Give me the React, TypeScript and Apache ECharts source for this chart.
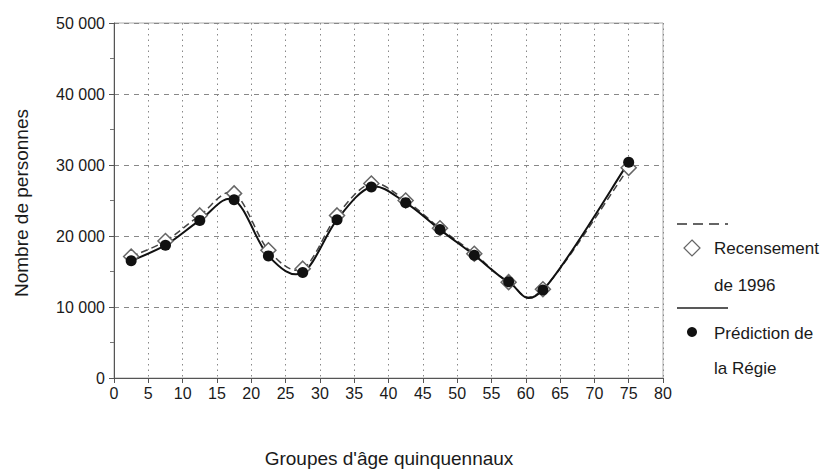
import React, { useEffect, useRef } from "react";
import * as echarts from "echarts";

const ageX = [2.5, 7.5, 12.5, 17.5, 22.5, 27.5, 32.5, 37.5, 42.5, 47.5, 52.5, 57.5, 62.5, 75];
const recensement = [17100, 19300, 22900, 26000, 18000, 15400, 22900, 27400, 25000, 21100, 17500, 13500, 12500, 29600];
const prediction = [16500, 18700, 22200, 25100, 17200, 14850, 22300, 26900, 24700, 20900, 17300, 13550, 12400, 30400];
const xTicks = { min: 0, max: 80, interval: 5 };
const yTicks = { min: 0, max: 50000, interval: 10000 };
const xTitle = "Groupes d'âge quinquennaux";
const yTitle = "Nombre de personnes";
const legend1 = ["Recensement", "de 1996"];
const legend2 = ["Prédiction de", "la Régie"];

const FONT = "'Liberation Sans', Arial, sans-serif";

function curveRenderer(ys: number[], stroke: string, lineWidth: number, lineDash: number[] | null) {
  return (params: any, api: any) => {
    const i = params.dataIndex;
    if (i === 0) return null;
    const n = ageX.length;
    const P = (k: number) => {
      const j = Math.max(0, Math.min(n - 1, k));
      return [ageX[j], ys[j]];
    };
    const p0 = P(i - 2), p1 = P(i - 1), p2 = P(i), p3 = P(i + 1);
    const c1 = [p1[0] + (p2[0] - p0[0]) / 6, p1[1] + (p2[1] - p0[1]) / 6];
    const c2 = [p2[0] - (p3[0] - p1[0]) / 6, p2[1] - (p3[1] - p1[1]) / 6];
    const a = api.coord(p1), b = api.coord(c1), c = api.coord(c2), d = api.coord(p2);
    return {
      type: "bezierCurve",
      shape: { x1: a[0], y1: a[1], cpx1: b[0], cpy1: b[1], cpx2: c[0], cpy2: c[1], x2: d[0], y2: d[1] },
      style: { stroke, lineWidth, fill: "none", lineDash: lineDash || undefined },
    };
  };
}

export default function App() {
  const ref = useRef<HTMLDivElement>(null);
  useEffect(() => {
    if (!ref.current) return;
    const chart = echarts.init(ref.current, undefined, { renderer: "svg" });
    const textStyle = { fontFamily: FONT, fill: "#1a1a1a" };
    chart.setOption({
      animation: false,
      backgroundColor: "#fff",
      textStyle: { fontFamily: FONT },
      grid: {
        left: 114, right: 162, top: 23, bottom: 93,
        show: true, borderColor: "#aaa", borderWidth: 1,
      },
      xAxis: {
        type: "value", ...xTicks,
        axisLine: { show: true, lineStyle: { color: "#555", width: 1 } },
        axisTick: { show: true, length: 5, lineStyle: { color: "#555" } },
        axisLabel: { fontFamily: FONT, fontSize: 16, color: "#1a1a1a", margin: 7 },
        splitLine: { show: true, lineStyle: { color: "#888", type: [1.5, 4], width: 1 } },
      },
      yAxis: {
        type: "value", ...yTicks,
        axisLine: { show: true, lineStyle: { color: "#555", width: 1 } },
        axisTick: { show: true, length: 5, lineStyle: { color: "#555" } },
        minorTick: { show: true, splitNumber: 2, length: 4, lineStyle: { color: "#777" } },
        axisLabel: {
          fontFamily: FONT, fontSize: 16, color: "#1a1a1a", margin: 9,
          formatter: (v: number) => (v === 0 ? "0" : `${v / 1000} 000`),
        },
        splitLine: { show: true, lineStyle: { color: "#888", type: [5, 5], width: 1 } },
      },
      series: [
        {
          name: "Recensement de 1996 (courbe)",
          type: "custom",
          data: ageX.map((x, i) => [x, recensement[i]]),
          encode: { x: 0, y: 1 },
          renderItem: curveRenderer(recensement, "#444", 1.5, [7, 4]),
          z: 2,
        },
        {
          name: "Prédiction de la Régie (courbe)",
          type: "custom",
          data: ageX.map((x, i) => [x, prediction[i]]),
          encode: { x: 0, y: 1 },
          renderItem: curveRenderer(prediction, "#111", 2, null),
          z: 3,
        },
        {
          name: "Recensement de 1996",
          type: "scatter",
          data: ageX.map((x, i) => [x, recensement[i]]),
          symbol: "diamond",
          symbolSize: 15,
          itemStyle: { color: "#fff", borderColor: "#666", borderWidth: 1.5, opacity: 1 },
          z: 4,
        },
        {
          name: "Prédiction de la Régie",
          type: "scatter",
          data: ageX.map((x, i) => [x, prediction[i]]),
          symbol: "circle",
          symbolSize: 11,
          itemStyle: { color: "#111", opacity: 1 },
          z: 5,
        },
      ],
      graphic: [
        { type: "text", x: 389, y: 458, style: { ...textStyle, text: xTitle, fontSize: 19, align: "center", verticalAlign: "middle" } },
        { type: "text", x: 21, y: 203, rotation: Math.PI / 2, style: { ...textStyle, text: yTitle, fontSize: 19, align: "center", verticalAlign: "middle" } },
        { type: "line", shape: { x1: 677, y1: 224, x2: 728, y2: 224 }, style: { stroke: "#333", lineWidth: 1.5, lineDash: [10, 6] } },
        { type: "polygon", shape: { points: [[692, 240], [700, 248], [692, 256], [684, 248]] }, style: { fill: "#fff", stroke: "#666", lineWidth: 1.2 } },
        { type: "text", x: 714, y: 248, style: { ...textStyle, text: legend1[0], fontSize: 17, verticalAlign: "middle" } },
        { type: "text", x: 714, y: 285, style: { ...textStyle, text: legend1[1], fontSize: 17, verticalAlign: "middle" } },
        { type: "line", shape: { x1: 677, y1: 308, x2: 728, y2: 308 }, style: { stroke: "#222", lineWidth: 1.5 } },
        { type: "circle", shape: { cx: 692, cy: 332, r: 5 }, style: { fill: "#111" } },
        { type: "text", x: 714, y: 333, style: { ...textStyle, text: legend2[0], fontSize: 17, verticalAlign: "middle" } },
        { type: "text", x: 714, y: 368, style: { ...textStyle, text: legend2[1], fontSize: 17, verticalAlign: "middle" } },
      ],
    });
    return () => chart.dispose();
  }, []);
  return <div ref={ref} style={{ position: "absolute", left: 0, top: 0, width: 825, height: 471 }} />;
}
